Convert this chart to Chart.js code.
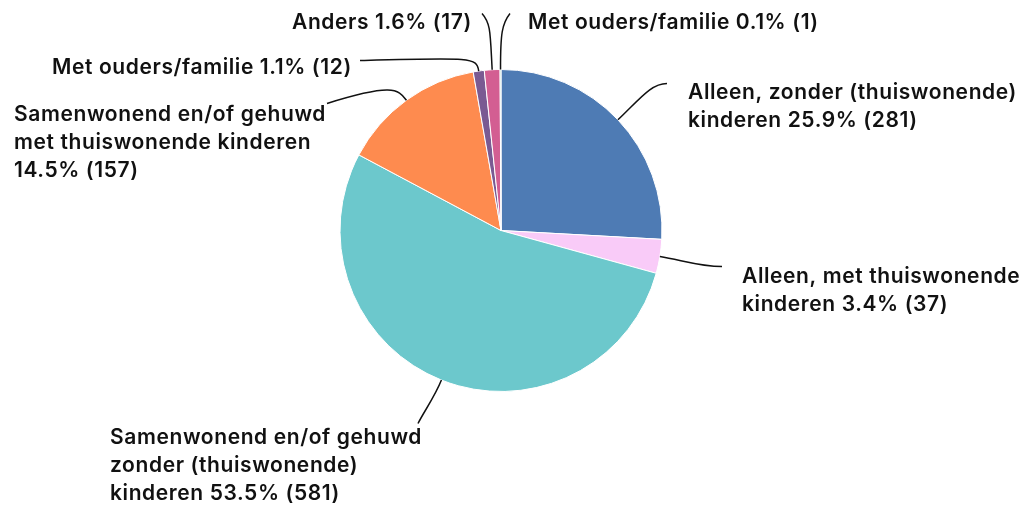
<!DOCTYPE html>
<html>
<head>
<meta charset="utf-8">
<script src="https://cdn.jsdelivr.net/npm/chart.js@4/dist/chart.umd.min.js"></script>
<style>
  html, body { margin: 0; padding: 0; background: #fff; }
  #wrap { width: 1032px; height: 511px; position: relative; }
</style>
</head>
<body>
<div id="wrap"><canvas id="c"></canvas></div>
<script>
const categories = [
  ["Alleen, zonder (thuiswonende)", "kinderen"],
  ["Alleen, met thuiswonende", "kinderen"],
  ["Samenwonend en/of gehuwd", "zonder (thuiswonende)", "kinderen"],
  ["Samenwonend en/of gehuwd", "met thuiswonende kinderen"],
  ["Met ouders/familie"],
  ["Anders"],
  ["Met ouders/familie"]
];
const counts = [281, 37, 581, 157, 12, 17, 1];
const percentLabels = ["25.9%", "3.4%", "53.5%", "14.5%", "1.1%", "1.6%", "0.1%"];
const colors = ["#4e7bb4", "#f9cbf8", "#6cc8cc", "#fe8b4f", "#7a5a92", "#d35e92", "#79c4a4"];

// label layout (offsets from pie centre): text anchor, leader end, leader shape
const labelLayout = [
  { tx: 187, ty: -132, align: "left",  ex: 166, ey: -147, a: 30, c2: [-16, 0] },
  { tx: 241, ty: 52,   align: "left",  ex: 221, ey: 36,   a: 22, c2: [-22, 0] },
  { tx: -391, ty: 213, align: "left",  ex: -83, ey: 193,  a: 18, c2: [6, -12] },
  { tx: -487, ty: -110, align: "left", ex: -174, ey: -127, a: 14, c2: [64, -20] },
  { tx: -449, ty: -157, align: "left", ex: -141, ey: -170, a: 14, c2: [112, -3] },
  { tx: -209, ty: -202, align: "left", ex: -19, ey: -217,  a: 36, c2: [9, 10] },
  { tx: 27,  ty: -202, align: "left",  ex: 9,   ey: -217,  a: 36, c2: [-8, 10] }
];

function labelLines(i) {
  const cat = categories[i];
  const suffix = percentLabels[i] + " (" + counts[i] + ")";
  const lines = cat.slice();
  if (i === 3) {
    lines.push(suffix);
  } else {
    lines[lines.length - 1] = lines[lines.length - 1] + " " + suffix;
  }
  return lines;
}

const FONT = '600 21px Inter, "Noto Sans", sans-serif';
const LINE_H = 28.3;

const leaderPlugin = {
  id: "leaders",
  afterDatasetsDraw(chart) {
    const ctx = chart.ctx;
    const meta = chart.getDatasetMeta(0);
    ctx.save();
    meta.data.forEach((arc, i) => {
      const p = arc.getProps(["x", "y", "startAngle", "endAngle", "outerRadius"], true);
      const mid = (p.startAngle + p.endAngle) / 2;
      const ux = Math.cos(mid), uy = Math.sin(mid);
      const sx = p.x + ux * p.outerRadius, sy = p.y + uy * p.outerRadius;
      const L = labelLayout[i];
      const ex = p.x + L.ex, ey = p.y + L.ey;
      ctx.beginPath();
      ctx.moveTo(sx, sy);
      ctx.bezierCurveTo(sx + ux * L.a, sy + uy * L.a, ex + L.c2[0], ey + L.c2[1], ex, ey);
      ctx.strokeStyle = "#111";
      ctx.lineWidth = 1.5;
      ctx.stroke();

      ctx.font = FONT;
      if ("letterSpacing" in ctx) ctx.letterSpacing = "0.6px";
      ctx.fillStyle = "#111";
      ctx.textAlign = L.align;
      ctx.textBaseline = "alphabetic";
      const lines = labelLines(i);
      lines.forEach((t, k) => ctx.fillText(t, p.x + L.tx, p.y + L.ty + k * LINE_H));
    });
    ctx.restore();
  }
};

new Chart(document.getElementById("c"), {
  type: "pie",
  data: {
    labels: categories.map(c => c.join(" ")),
    datasets: [{
      data: counts,
      backgroundColor: colors,
      borderColor: "#ffffff",
      borderWidth: 1
    }]
  },
  options: {
    responsive: true,
    maintainAspectRatio: false,
    animation: false,
    layout: { padding: { top: 69, bottom: 119, left: 0, right: 30 } },
    plugins: { legend: { display: false }, tooltip: { enabled: false } }
  },
  plugins: [leaderPlugin]
});
</script>
</body>
</html>
